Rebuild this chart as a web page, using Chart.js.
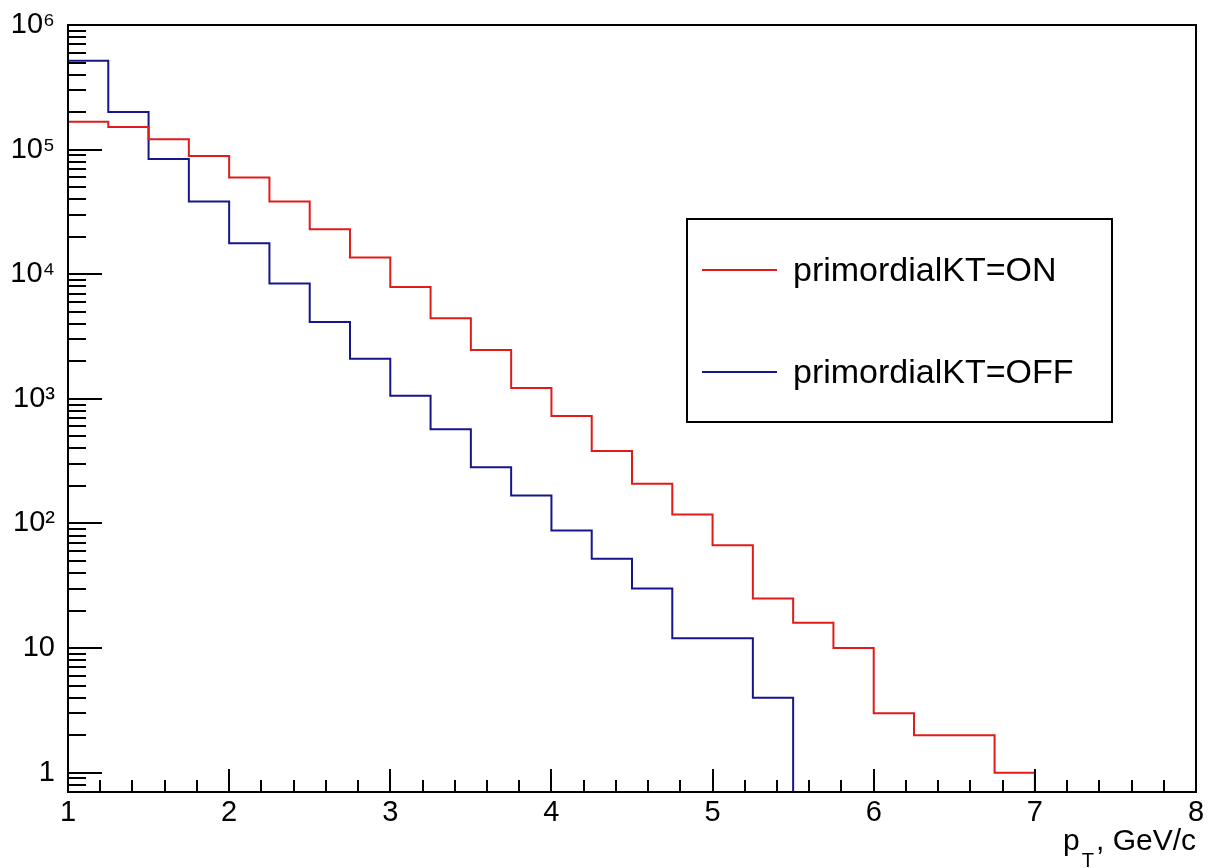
<!DOCTYPE html>
<html>
<head>
<meta charset="utf-8">
<title>pT spectrum, primordialKT on/off</title>
<script src="https://cdn.jsdelivr.net/npm/chart.js@4.4.1/dist/chart.umd.min.js"></script>
<style>
    html, body { margin: 0; padding: 0; background: #fff; }
    #wrap { width: 1218px; height: 868px; }
</style>
</head>
<body>
<div id="wrap"><canvas id="chart" width="1218" height="868"></canvas></div>
<script>
// histogram bin edges, GeV/c
const binEdges = [1, 1.25, 1.5, 1.75, 2, 2.25, 2.5, 2.75, 3, 3.25, 3.5, 3.75,
                  4, 4.25, 4.5, 4.75, 5, 5.25, 5.5, 5.75, 6, 6.25, 6.5, 6.75, 7];

// entries per bin
const countsKtOn  = [167000, 152000, 121000, 88700, 59800, 38400, 23000, 13600, 7910, 4430, 2470, 1220,
                     728, 381, 208, 118, 67, 25, 16, 10, 3, 2, 2, 1];
const countsKtOff = [517000, 200000, 83900, 38400, 17700, 8410, 4140, 2100, 1060, 569, 283, 168,
                     88, 52, 30, 12, 12, 4, 0, 0, 0, 0, 0, 0];

const seriesLabels = ['primordialKT=ON', 'primordialKT=OFF'];
const seriesColors = ['#e01b1b', '#16168a'];

const xTickValues = [1, 2, 3, 4, 5, 6, 7, 8];
const yTickValues = [1, 10, 100, 1e3, 1e4, 1e5, 1e6];
const yTickLabels = ['1', '10', '10\u00b2', '10\u00b3', '10\u2074', '10\u2075', '10\u2076'];

// y axis range (empty bins are drawn down to the floor, like ROOT does)
const yAxisMin = 0.7;
const yAxisMax = 1e6;

const FONT = "'Liberation Sans', Arial, Helvetica, sans-serif";

// step points: value holds from the low edge until the next one, then drop to the floor
function histPoints(counts) {
    let last = -1;
    counts.forEach((c, i) => { if (c > 0) last = i; });
    const pts = [];
    for (let i = 0; i <= last; i++) {
        pts.push({ x: binEdges[i], y: counts[i] });
    }
    pts.push({ x: binEdges[last + 1], y: counts[last] });
    pts.push({ x: binEdges[last + 1], y: yAxisMin });
    return pts;
}

// ROOT style frame with inner ticks
const rootFrame = {
    id: 'rootFrame',
    afterDatasetsDraw(chart) {
        const { ctx, chartArea: a, scales: { x, y } } = chart;
        ctx.save();
        ctx.strokeStyle = '#000';
        ctx.lineWidth = 2;
        ctx.strokeRect(a.left, a.top, a.right - a.left, a.bottom - a.top);

        ctx.beginPath();
        // x ticks every 0.2, major at integers
        for (let k = 0; k <= 35; k++) {
            const v = x.min + k * 0.2;
            const px = Math.round(x.getPixelForValue(v));
            const len = (k % 5 === 0) ? 23 : 12;
            ctx.moveTo(px, a.bottom);
            ctx.lineTo(px, a.bottom - len);
        }
        // y ticks, decades major
        for (let e = -1; e <= 6; e++) {
            for (let m = 1; m <= 9; m++) {
                const v = m * Math.pow(10, e);
                if (v < y.min * 0.999 || v > y.max * 1.001) continue;
                const py = Math.round(y.getPixelForValue(v));
                const len = (m === 1) ? 34 : 18;
                ctx.moveTo(a.left, py);
                ctx.lineTo(a.left + len, py);
            }
        }
        ctx.stroke();

        // axis title p_T, GeV/c (right aligned)
        ctx.fillStyle = '#000';
        ctx.textBaseline = 'alphabetic';
        ctx.textAlign = 'right';
        ctx.font = '30px ' + FONT;
        const rest = ', GeV/c';
        const baseX = a.right;
        ctx.fillText(rest, baseX, 850);
        let cur = baseX - ctx.measureText(rest).width - 2;
        ctx.font = '20px ' + FONT;
        ctx.fillText('T', cur, 867);
        cur -= ctx.measureText('T').width + 2;
        ctx.font = '30px ' + FONT;
        ctx.fillText('p', cur, 850);
        ctx.restore();
    }
};

// boxed legend like TLegend
const rootLegend = {
    id: 'rootLegend',
    afterDraw(chart) {
        const { ctx } = chart;
        const box = { left: 687, top: 219, right: 1112, bottom: 422 };
        const rowY = [270, 372];
        ctx.save();
        ctx.fillStyle = '#fff';
        ctx.fillRect(box.left, box.top, box.right - box.left, box.bottom - box.top);
        ctx.strokeStyle = '#000';
        ctx.lineWidth = 2;
        ctx.strokeRect(box.left, box.top, box.right - box.left, box.bottom - box.top);
        chart.data.datasets.forEach((ds, i) => {
            ctx.strokeStyle = ds.borderColor;
            ctx.lineWidth = 2;
            ctx.beginPath();
            ctx.moveTo(702, rowY[i]);
            ctx.lineTo(777, rowY[i]);
            ctx.stroke();
            ctx.fillStyle = '#000';
            ctx.font = '34px ' + FONT;
            ctx.textAlign = 'left';
            ctx.textBaseline = 'alphabetic';
            ctx.fillText(ds.label, 793, rowY[i] + 11);
        });
        ctx.restore();
    }
};

const ctx = document.getElementById('chart').getContext('2d');
new Chart(ctx, {
    type: 'line',
    data: {
        datasets: [
            {
                label: seriesLabels[0],
                data: histPoints(countsKtOn),
                borderColor: seriesColors[0],
                borderWidth: 2,
                pointRadius: 0,
                stepped: true,
                fill: false
            },
            {
                label: seriesLabels[1],
                data: histPoints(countsKtOff),
                borderColor: seriesColors[1],
                borderWidth: 2,
                pointRadius: 0,
                stepped: true,
                fill: false
            }
        ]
    },
    options: {
        responsive: false,
        animation: false,
        layout: { padding: { top: 25, right: 22, left: 0, bottom: 0 } },
        plugins: {
            legend: { display: false },
            tooltip: { enabled: false }
        },
        scales: {
            x: {
                type: 'linear',
                min: 1,
                max: 8,
                afterBuildTicks: s => { s.ticks = xTickValues.map(v => ({ value: v })); },
                afterFit: s => { s.height = 76; s.paddingLeft = 0; s.paddingRight = 0; },
                grid: { display: false, drawTicks: false },
                border: { display: false },
                ticks: {
                    color: '#000',
                    font: { family: FONT, size: 29 },
                    padding: 4,
                    maxRotation: 0,
                    autoSkip: false,
                    callback: v => String(v)
                }
            },
            y: {
                type: 'logarithmic',
                min: yAxisMin,
                max: yAxisMax,
                afterBuildTicks: s => { s.ticks = yTickValues.map(v => ({ value: v })); },
                afterFit: s => { s.width = 68; s.paddingTop = 0; s.paddingBottom = 0; },
                grid: { display: false, drawTicks: false },
                border: { display: false },
                ticks: {
                    color: '#000',
                    font: { family: FONT, size: 29 },
                    padding: 13,
                    autoSkip: false,
                    callback: (v, i) => yTickLabels[i]
                }
            }
        }
    },
    plugins: [rootFrame, rootLegend]
});
</script>
</body>
</html>
